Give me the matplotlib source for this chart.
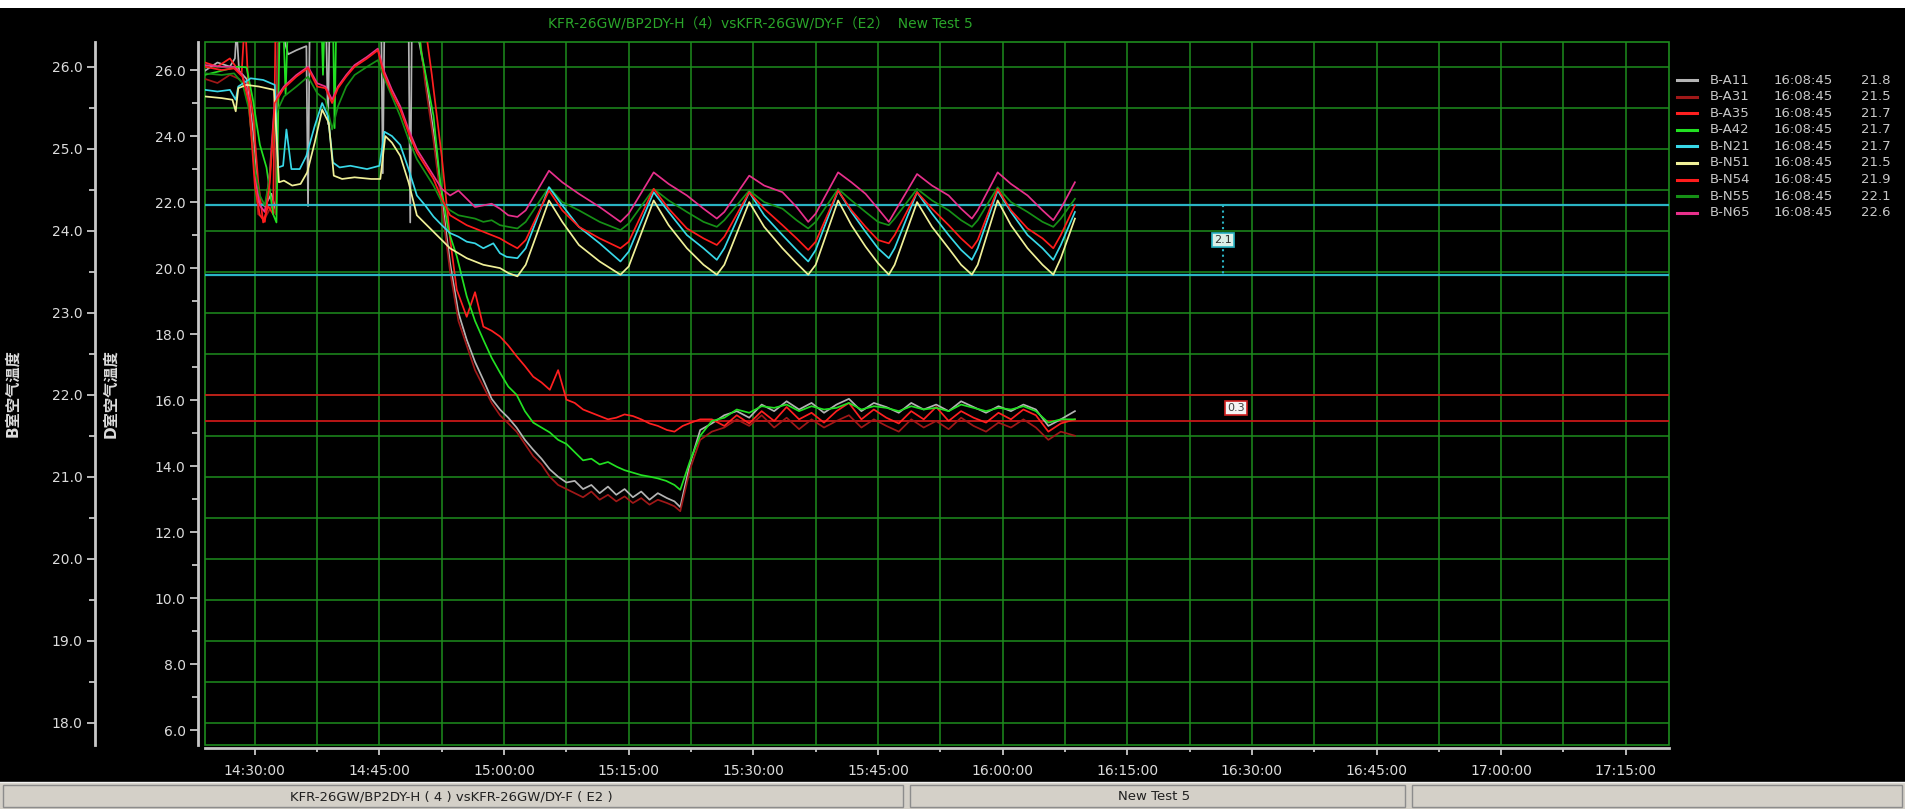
import matplotlib
matplotlib.use('Agg')
import matplotlib.pyplot as plt
from matplotlib.ticker import MultipleLocator, FuncFormatter, FormatStrFormatter
from matplotlib.lines import Line2D
from matplotlib.patches import Rectangle

plt.rcParams['font.family'] = ['DejaVu Sans', 'Noto Sans CJK SC']

# time = minutes after 14:00
# ---- B room sensors (outer axis, B室空气温度) ----
a11_t = [24.0, 25.5, 27.0, 27.6, 27.8, 28.1, 29.0, 29.8, 30.4, 31.2, 32.0, 32.5, 32.8, 34.0, 35.0,
         36.2, 36.4, 36.6, 38.6, 38.8, 39.0, 45.2, 45.4, 45.6, 48.5, 48.7, 48.9, 49.6, 50.5, 51.5,
         52.5, 53.5, 54.5, 55.5, 56.5, 57.5, 58.5, 59.5, 60.5, 61.5, 62.5, 63.5, 64.5, 65.5, 66.5,
         67.5, 68.5, 69.5, 70.5, 71.5, 72.5, 73.5, 74.5, 75.5, 76.5, 77.5, 78.5, 79.6, 80.5, 81.2,
         82.4, 83.6]
a11_v = [25.95, 26.05, 26.0, 26.1, 26.45, 25.95, 25.85, 25.2, 24.35, 24.3, 24.45, 24.25, 26.6, 26.15, 26.2,
         26.25, 24.3, 26.5, 26.4, 25.3, 26.6, 26.6, 24.7, 26.6, 26.6, 24.1, 26.6, 26.4, 25.9, 25.2,
         24.4, 23.6, 23.0, 22.67, 22.4, 22.18, 21.95, 21.82, 21.72, 21.6, 21.45, 21.33, 21.22, 21.09, 21.0,
         20.93, 20.95, 20.85, 20.9, 20.8, 20.88, 20.78, 20.85, 20.75, 20.82, 20.72, 20.8, 20.74, 20.7, 20.63,
         21.17, 21.57]

a31_t = [24.0, 25.5, 27.0, 28.1, 29.0, 29.8, 30.4, 31.2, 32.0, 32.5, 32.8, 49.6, 50.5, 51.5, 52.5,
         53.5, 54.5, 55.5, 56.5, 57.5, 58.5, 59.5, 60.5, 61.5, 62.5, 63.5, 64.5, 65.5, 66.5, 67.5,
         68.5, 69.5, 70.5, 71.5, 72.5, 73.5, 74.5, 75.5, 76.5, 77.5, 78.5, 79.6, 80.5, 81.2, 82.4, 83.6]
a31_v = [25.85, 25.8, 25.9, 25.85, 25.75, 25.0, 24.2, 24.15, 24.3, 24.2, 26.6, 26.6, 25.8, 25.1, 24.3,
         23.5, 22.9, 22.6, 22.3, 22.1, 21.9, 21.75, 21.65, 21.55, 21.4, 21.25, 21.15, 21.0, 20.9, 20.85,
         20.8, 20.75, 20.82, 20.72, 20.78, 20.7, 20.76, 20.68, 20.74, 20.66, 20.72, 20.68, 20.64, 20.58, 21.1, 21.45]

a35_t = [24.0, 25.5, 27.0, 28.4, 28.8, 29.2, 29.8, 30.4, 31.0, 31.6, 32.2, 32.5, 49.6, 50.5, 51.3,
         52.5, 53.5, 54.3, 55.5, 56.5, 57.5, 58.5, 59.5, 60.5, 61.5, 62.5, 63.5, 64.5, 65.5, 66.5,
         67.5, 68.5, 69.5, 70.5, 71.5, 72.5, 73.5, 74.5, 75.5, 76.5, 77.5, 78.5, 79.6, 80.5, 81.5,
         82.5, 83.6]
a35_v = [26.05, 26.0, 26.1, 25.9, 26.6, 25.8, 25.4, 24.6, 24.1, 24.3, 24.2, 26.6, 26.6, 26.5, 25.9,
         24.9, 23.9, 23.28, 22.95, 23.25, 22.83, 22.78, 22.71, 22.6, 22.47, 22.35, 22.22, 22.15, 22.06, 22.3,
         21.94, 21.9, 21.82, 21.78, 21.74, 21.7, 21.72, 21.76, 21.74, 21.7, 21.65, 21.62, 21.57, 21.55, 21.62,
         21.66, 21.7]

a42_t = [24.0, 26.0, 28.0, 29.0, 29.8, 30.6, 31.4, 32.2, 32.6, 33.0, 33.4, 33.7, 34.0, 38.0, 38.2,
         38.4, 39.4, 39.6, 39.8, 49.6, 50.0, 51.5, 52.3, 53.3, 54.3, 55.5, 56.5, 57.5, 58.5, 59.5,
         60.5, 61.5, 62.5, 63.5, 64.5, 65.5, 66.5, 67.5, 68.5, 69.5, 70.5, 71.5, 72.5, 73.6, 74.5,
         75.5, 76.5, 77.6, 78.5, 79.5, 80.5, 81.2, 82.4, 83.6]
a42_v = [25.9, 25.95, 26.0, 25.99, 25.58, 25.05, 24.77, 24.2, 24.1, 26.6, 26.6, 25.66, 26.6, 26.6, 25.9,
         26.6, 26.6, 25.25, 26.6, 26.6, 26.2, 25.4, 24.6, 24.0, 23.69, 23.2, 22.9, 22.67, 22.45, 22.27,
         22.1, 22.0, 21.8, 21.66, 21.6, 21.54, 21.45, 21.4, 21.3, 21.2, 21.22, 21.15, 21.18, 21.12, 21.08,
         21.05, 21.02, 21.0, 20.98, 20.95, 20.9, 20.84, 21.2, 21.5]

# steady part of the B sensors after 15:25
flat_t = [85.0, 86.5, 88.0, 89.5, 91.0, 92.5, 94.0, 95.5, 97.0, 98.5, 100.0, 101.5, 103.0, 104.5, 106.0,
          107.5, 109.0, 110.5, 112.0, 113.5, 115.0, 116.5, 118.0, 119.5, 121.0, 122.5, 124.0, 125.5, 127.0, 128.7]
a11_flat = [21.65, 21.75, 21.8, 21.72, 21.88, 21.8, 21.92, 21.82, 21.9, 21.78, 21.88, 21.95, 21.8, 21.9, 21.85,
            21.78, 21.9, 21.82, 21.88, 21.8, 21.92, 21.85, 21.78, 21.86, 21.8, 21.88, 21.82, 21.62, 21.7, 21.8]
a31_flat = [21.55, 21.6, 21.7, 21.62, 21.75, 21.6, 21.72, 21.58, 21.7, 21.6, 21.68, 21.75, 21.6, 21.7, 21.62,
            21.55, 21.7, 21.6, 21.68, 21.58, 21.72, 21.62, 21.55, 21.66, 21.6, 21.7, 21.6, 21.45, 21.55, 21.5]
a35_flat = [21.7, 21.62, 21.75, 21.65, 21.8, 21.68, 21.85, 21.7, 21.78, 21.66, 21.8, 21.9, 21.7, 21.82, 21.72,
            21.65, 21.8, 21.7, 21.85, 21.68, 21.8, 21.72, 21.66, 21.78, 21.7, 21.82, 21.75, 21.55, 21.65, 21.7]
a42_flat = [21.68, 21.72, 21.82, 21.78, 21.86, 21.84, 21.88, 21.8, 21.86, 21.82, 21.84, 21.9, 21.82, 21.86, 21.84,
            21.8, 21.86, 21.82, 21.84, 21.8, 21.88, 21.84, 21.8, 21.84, 21.82, 21.86, 21.8, 21.66, 21.7, 21.7]

# ---- D room sensors (inner axis, D室空气温度) ----
n21_t = [24.0, 25.5, 27.0, 27.7, 28.0, 29.5, 31.0, 32.4, 32.8, 33.4, 33.8, 34.4, 35.4, 36.2, 37.2,
         38.1, 38.8, 39.4, 40.2, 41.5, 43.5, 45.0, 45.6, 46.5, 47.5, 48.5, 49.5, 50.5, 51.5, 52.5,
         53.5, 54.5, 55.5, 56.5, 57.5, 58.7, 59.5, 60.3]
n21_v = [25.4, 25.35, 25.4, 25.1, 25.5, 25.75, 25.7, 25.55, 23.05, 23.1, 24.2, 23.0, 23.0, 23.4, 24.3,
         25.0, 24.6, 23.2, 23.05, 23.1, 23.0, 23.1, 24.13, 24.0, 23.73, 23.0, 22.2, 21.9, 21.56, 21.3,
         21.06, 20.95, 20.8, 20.75, 20.6, 20.75, 20.45, 20.34]

n51_t = [24.0, 26.0, 27.3, 27.7, 28.0, 29.0, 30.5, 32.3, 32.9, 33.5, 34.5, 35.5, 36.3, 37.2, 38.1,
         38.9, 39.5, 40.5, 42.0, 44.0, 45.1, 45.7, 46.5, 47.5, 48.5, 49.5, 50.5, 51.5, 52.5, 53.5,
         54.5, 55.5, 56.5, 57.5, 58.5, 59.5, 60.5]
n51_v = [25.2, 25.15, 25.1, 24.75, 25.45, 25.55, 25.5, 25.4, 22.6, 22.65, 22.5, 22.55, 22.9, 23.8, 24.8,
         24.4, 22.8, 22.7, 22.75, 22.7, 22.7, 24.0, 23.8, 23.4, 22.6, 21.6, 21.35, 21.1, 20.85, 20.6,
         20.45, 20.3, 20.2, 20.1, 20.05, 20.0, 19.85]

# N54 / N55 / N65 share the same early sample times
n5x_t = [24.0, 26.0, 27.5, 28.5, 29.3, 30.0, 30.6, 31.2, 31.8, 32.4, 33.5, 35.0, 36.4, 37.5, 38.5,
         39.3, 40.0, 41.0, 42.0, 43.5, 44.8, 45.5, 46.5, 47.5, 48.5, 49.5, 50.5, 51.5, 52.5, 53.5,
         54.5, 55.5, 56.5, 57.5, 58.5, 59.5, 60.5]
n54_v = [26.1, 26.0, 26.05, 25.8, 25.0, 22.5, 21.6, 21.4, 22.6, 25.0, 25.45, 25.8, 26.06, 25.5, 25.45,
         25.0, 25.45, 25.8, 26.1, 26.35, 26.6, 25.9, 25.3, 24.8, 24.1, 23.5, 23.1, 22.7, 22.1, 21.6,
         21.45, 21.3, 21.2, 21.1, 21.0, 20.9, 20.75]
n55_v = [25.9, 25.85, 25.9, 25.6, 24.8, 23.0, 22.2, 21.9, 22.8, 24.6, 25.2, 25.5, 25.8, 25.3, 25.1,
         24.2, 24.9, 25.5, 25.85, 26.1, 26.3, 25.8, 25.2, 24.6, 23.9, 23.3, 22.9, 22.5, 22.0, 21.75,
         21.6, 21.55, 21.5, 21.4, 21.45, 21.3, 21.25]
n65_v = [26.15, 26.1, 26.1, 25.85, 25.1, 22.8, 21.9, 21.7, 22.9, 25.1, 25.5, 25.85, 26.1, 25.6, 25.5,
         25.1, 25.5, 25.85, 26.15, 26.4, 26.65, 26.0, 25.4, 24.9, 24.2, 23.6, 23.2, 22.8, 22.4, 22.2,
         22.35, 22.1, 21.85, 21.9, 21.95, 21.8, 21.6]

# cycling part (compressor on/off) shared sample times
cyc_t = [61.6, 62.6, 65.4, 67.0, 69.0, 71.5, 74.0, 75.0, 78.0, 79.8, 82.0, 84.0, 85.6, 86.5, 89.5,
         91.3, 93.5, 95.2, 96.6, 97.5, 100.2, 101.8, 103.5, 105.0, 106.3, 107.0, 109.7, 111.5, 113.5, 115.0,
         116.3, 117.0, 119.4, 121.0, 123.0, 124.8, 126.1, 127.0, 128.7]
n21_cyc = [20.3, 20.6, 22.45, 21.9, 21.25, 20.75, 20.2, 20.5, 22.3, 21.7, 21.0, 20.6, 20.25, 20.6, 22.3,
           21.6, 21.0, 20.55, 20.2, 20.55, 22.35, 21.7, 21.1, 20.6, 20.3, 20.6, 22.3, 21.65, 21.0, 20.55,
           20.25, 20.6, 22.35, 21.7, 21.0, 20.6, 20.25, 20.7, 21.7]
n51_cyc = [19.75, 20.1, 22.05, 21.4, 20.7, 20.2, 19.8, 20.05, 22.05, 21.3, 20.6, 20.1, 19.8, 20.1, 22.0,
           21.25, 20.6, 20.15, 19.8, 20.1, 22.05, 21.3, 20.65, 20.15, 19.8, 20.1, 22.0, 21.25, 20.6, 20.1,
           19.8, 20.1, 22.05, 21.3, 20.6, 20.1, 19.8, 20.3, 21.5]
n54_cyc = [20.6, 20.85, 22.35, 21.75, 21.25, 20.9, 20.6, 20.8, 22.4, 21.8, 21.2, 20.9, 20.7, 20.95, 22.3,
           21.8, 21.3, 20.9, 20.55, 20.8, 22.35, 21.75, 21.25, 20.85, 20.75, 21.0, 22.3, 21.8, 21.3, 20.9,
           20.6, 20.85, 22.4, 21.75, 21.2, 20.9, 20.6, 21.0, 21.9]
n55_cyc = [21.2, 21.4, 22.45, 22.0, 21.75, 21.4, 21.15, 21.35, 22.4, 22.05, 21.7, 21.4, 21.25, 21.45, 22.35,
           22.0, 21.8, 21.45, 21.2, 21.4, 22.4, 22.05, 21.7, 21.4, 21.3, 21.5, 22.4, 22.05, 21.75, 21.45,
           21.25, 21.45, 22.45, 22.0, 21.7, 21.4, 21.25, 21.5, 22.1]
n65_cyc = [21.55, 21.75, 22.95, 22.6, 22.25, 21.85, 21.4, 21.65, 22.9, 22.55, 22.2, 21.8, 21.5, 21.7, 22.8,
           22.5, 22.3, 21.85, 21.4, 21.65, 22.9, 22.6, 22.25, 21.8, 21.4, 21.7, 22.85, 22.5, 22.2, 21.8,
           21.5, 21.75, 22.9, 22.55, 22.2, 21.75, 21.45, 21.8, 22.6]

# measurement cursors
ref_d = [21.9, 19.8]      # cyan pair, D axis
ref_b = [22.0, 21.68]     # red pair, B axis
cursor_t_d = 146.5
cursor_t_b = 148.1

names = ['B-A11', 'B-A31', 'B-A35', 'B-A42', 'B-N21', 'B-N51', 'B-N54', 'B-N55', 'B-N65']
last_vals = ['21.8', '21.5', '21.7', '21.7', '21.7', '21.5', '21.9', '22.1', '22.6']
last_time = '16:08:45'
colors = ['#b4b4b4', '#a01818', '#ff2020', '#22e022', '#38d8e8', '#f0f098', '#ff1c1c', '#169016', '#e8308c']

title = 'KFR-26GW/BP2DY-H（4）vsKFR-26GW/DY-F（E2）  New Test 5'

W, H = 1905, 809
fig = plt.figure(figsize=(W / 100, H / 100), dpi=100, facecolor='black')

grid_c = '#1e8c1e'
axis_c = '#c8c8c8'
txt_c = '#dcdcdc'

ax_b = fig.add_axes([205 / W, (H - 745) / H, (1669 - 205) / W, (745 - 42) / H])
ax_b.set_facecolor('black')
ax_b.patch.set_edgecolor(grid_c)
ax_b.patch.set_linewidth(1.2)
ax_d = ax_b.twinx()

ax_b.set_xlim(24.0, 200.2)
ax_b.set_ylim(17.73, 26.30)
ax_d.set_ylim(5.55, 26.85)

# grid from the outer axis (0.5 steps) and 7.5 min in time
ax_b.xaxis.set_major_locator(MultipleLocator(15))
ax_b.xaxis.set_minor_locator(MultipleLocator(7.5))
ax_b.xaxis.set_major_formatter(FuncFormatter(lambda m, p: f"{14 + int(m // 60)}:{int(m % 60):02d}:00"))
ax_b.yaxis.set_major_locator(MultipleLocator(1))
ax_b.yaxis.set_minor_locator(MultipleLocator(0.5))
ax_b.yaxis.set_major_formatter(FormatStrFormatter('%.1f'))
ax_b.grid(True, which='both', color=grid_c, lw=1.1)
ax_b.set_axisbelow(True)

ax_d.yaxis.set_major_locator(MultipleLocator(2))
ax_d.yaxis.set_minor_locator(MultipleLocator(1))
ax_d.yaxis.set_major_formatter(FormatStrFormatter('%.1f'))

for s in ['top', 'right']:
    ax_b.spines[s].set_visible(False)
ax_b.spines['left'].set_position(('outward', 79))
ax_b.spines['bottom'].set_position(('outward', 2.5))
for s in ['left', 'bottom']:
    ax_b.spines[s].set_color(axis_c)
    ax_b.spines[s].set_linewidth(2)

for s in ['top', 'right', 'bottom']:
    ax_d.spines[s].set_visible(False)
ax_d.yaxis.tick_left()
ax_d.yaxis.set_label_position('left')
ax_d.spines['left'].set_visible(True)
ax_d.spines['left'].set_position(('outward', 5))
ax_d.spines['left'].set_color(axis_c)
ax_d.spines['left'].set_linewidth(2)

for a in (ax_b, ax_d):
    a.tick_params(which='major', direction='out', length=6, width=1.3, color=axis_c,
                  labelcolor=txt_c, labelsize=10, pad=3)
    a.tick_params(which='minor', direction='out', length=4, width=1.3, color=axis_c)
ax_b.tick_params(axis='x', which='major', length=5, pad=6)
ax_b.tick_params(axis='x', which='minor', length=3)

ax_b.set_ylabel('B室空气温度', color=txt_c, fontsize=11, fontweight='bold')
ax_b.yaxis.set_label_coords(-0.1265, 0.5)
ax_d.set_ylabel('D室空气温度', color=txt_c, fontsize=11, fontweight='bold')
ax_d.yaxis.set_label_coords(-0.0594, 0.5)

# reference cursors
for y in ref_b:
    ax_b.axhline(y, color='#c81818', lw=1.3, zorder=1.5)
for y in ref_d:
    ax_d.axhline(y, color='#2ab4c4', lw=1.6, zorder=1)

# B sensors
a_series = [(a11_t + flat_t, a11_v + a11_flat), (a31_t + flat_t, a31_v + a31_flat),
            (a35_t + flat_t, a35_v + a35_flat), (a42_t + flat_t, a42_v + a42_flat)]
for (t, v), c in zip(a_series, colors[:4]):
    ax_b.plot(t, v, color=c, lw=1.25, zorder=2)

# D sensors (red N54 drawn last so it stays on top at the start)
n_series = {
    'B-N65': (n5x_t + cyc_t, n65_v + n65_cyc),
    'B-N55': (n5x_t + cyc_t, n55_v + n55_cyc),
    'B-N21': (n21_t + cyc_t, n21_v + n21_cyc),
    'B-N51': (n51_t + cyc_t, n51_v + n51_cyc),
    'B-N54': (n5x_t + cyc_t, n54_v + n54_cyc),
}
for nm, (t, v) in n_series.items():
    ax_d.plot(t, v, color=colors[names.index(nm)], lw=1.25, zorder=2)

# difference labels
ax_d.plot([cursor_t_d, cursor_t_d], ref_d, color='#2ab4c4', lw=1.5, ls=':', zorder=3)
ax_d.text(cursor_t_d, sum(ref_d) / 2, f"{abs(ref_d[0] - ref_d[1]):.1f}", fontsize=8, color='#303030',
          ha='center', va='center', zorder=4,
          bbox=dict(boxstyle='square,pad=0.2', fc='#dcefe8', ec='#2ab4c4', lw=1.2))
ax_b.text(cursor_t_b, sum(ref_b) / 2, f"{abs(ref_b[0] - ref_b[1]):.1f}", fontsize=8, color='#404040',
          ha='center', va='center', zorder=4,
          bbox=dict(boxstyle='square,pad=0.2', fc='#f4f4f4', ec='#d02020', lw=1.2))

# title
fig.text(760 / W, 1 - 24 / H, title, color='#2aa52a', fontsize=10, ha='center', va='center')

# legend at the right
for i, (nm, c, val) in enumerate(zip(names, colors, last_vals)):
    y = 1 - (80 + 16.6 * i) / H
    fig.add_artist(Line2D([1677 / W, 1697 / W], [y, y], color=c, lw=2.2, transform=fig.transFigure))
    fig.text(1710 / W, y, nm, color='#c8c8c8', fontsize=9.5, va='center', ha='left')
    fig.text(1774 / W, y, last_time, color='#c8c8c8', fontsize=9.5, va='center', ha='left')
    fig.text(1891 / W, y, val, color='#c8c8c8', fontsize=9.5, va='center', ha='right')

# window chrome: top white strip and bottom status bar
fig.add_artist(Rectangle((0, 1 - 8 / H), 1, 8 / H, transform=fig.transFigure, fc='white', ec='none'))
fig.add_artist(Rectangle((0, 0), 1, 27 / H, transform=fig.transFigure, fc='#d4d0c8', ec='none'))
fig.add_artist(Line2D([0, 1], [27 / H, 27 / H], color='#f0f0f0', lw=1, transform=fig.transFigure))
for x0, x1 in [(3, 903), (910, 1405), (1412, 1902)]:
    fig.add_artist(Rectangle((x0 / W, 2 / H), (x1 - x0) / W, 22 / H, transform=fig.transFigure,
                             fc='none', ec='#8c8c8c', lw=1))
fig.text(451 / W, 12 / H, 'KFR-26GW/BP2DY-H ( 4 ) vsKFR-26GW/DY-F ( E2 )', color='#202020',
         fontsize=9.5, ha='center', va='center')
fig.text(1154 / W, 12 / H, 'New Test 5', color='#202020', fontsize=9.5, ha='center', va='center')

fig.savefig('out.png', dpi=100, facecolor='black')
